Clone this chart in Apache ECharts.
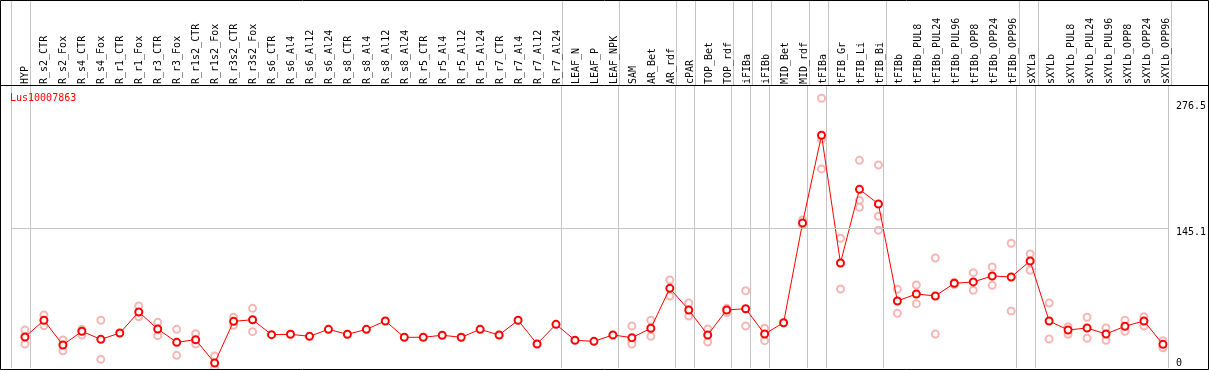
<!DOCTYPE html>
<html>
<head>
<meta charset="utf-8">
<script src="https://cdn.jsdelivr.net/npm/echarts@6/dist/echarts.min.js"></script>
<style>
html,body{margin:0;padding:0;background:#fff;}
#chart{width:1209px;height:370px;}
</style>
</head>
<body>
<div id="chart"></div>
<script>
const geneId = 'Lus10007863';

const categories = ['HYP','R_s2_CTR','R_s2_Fox','R_s4_CTR','R_s4_Fox','R_r1_CTR','R_r1_Fox','R_r3_CTR','R_r3_Fox','R_r1s2_CTR','R_r1s2_Fox','R_r3s2_CTR','R_r3s2_Fox','R_s6_CTR','R_s6_Al4','R_s6_Al12','R_s6_Al24','R_s8_CTR','R_s8_Al4','R_s8_Al12','R_s8_Al24','R_r5_CTR','R_r5_Al4','R_r5_Al12','R_r5_Al24','R_r7_CTR','R_r7_Al4','R_r7_Al12','R_r7_Al24','LEAF_N','LEAF_P','LEAF_NPK','SAM','AR_Bet','AR_rdf','cPAR','TOP_Bet','TOP_rdf','iFIBa','iFIBb','MID_Bet','MID_rdf','tFIBa','tFIB_Gr','tFIB_Li','tFIB_Bi','tFIBb','tFIBb_PUL8','tFIBb_PUL24','tFIBb_PUL96','tFIBb_OPP8','tFIBb_OPP24','tFIBb_OPP96','sXYLa','sXYLb','sXYLb_PUL8','sXYLb_PUL24','sXYLb_PUL96','sXYLb_OPP8','sXYLb_OPP24','sXYLb_OPP96'];

const meanValues = [32.1,49.4,23.8,38,29.7,36.2,58,40.4,26.6,29.3,5.2,48.3,50,34.5,34.9,32.8,40,34.9,40,48.7,31.8,31.8,33.9,31.8,40,34.2,49.4,24.9,45.2,28.7,27.6,34.2,31.4,41.1,82.5,60.1,34.2,60.1,61.4,35.2,46.9,150.2,241,108.7,185,169.8,69.4,76.6,74.6,87.7,89.1,95.3,94.2,110.8,48.7,39.4,41.4,35.2,43.2,48.7,24.5];

const replicateValues = [
  [39.3,24.9],[54.9,43.8],[29,17.9],[40,34.2],[49.4,9],[],[64.2,53.1],[47.3,33.5],[40,13.1],[35.5,24.9],[12.4,0],[52.5,44.2],[61.8,37.6],
  [],[],[],[],[],[],[],[],[],[],[],[],[],[],[],[],
  [],[],[],
  [43.5,27.3,24.9],[49.4,32.8],[91.1,74.6],[67.3,53.8],[40.4,26.9],[61.8,57.3],[80,43.5],[41.1,28.3],[],[153.3,148],
  [279.3,237.1,206.1],[134.3,81.8],[215,173.6,166.4],[210.2,157.1,142.6],
  [81.5,56.6],[85.9,66.6],[113.9,35.2],[88.7,86.3],[98.7,80.4],[104.6,85.6],[129.1,59],
  [118,101.2],[67.3,30],[42.8,34.9],[52.5,30.8],[41.4,28.7],[49.4,38],[53.1,43.5],[28.3,21]
];

const yTickLabelsTop = [145.1, 276.5];
const yTickLabelsBottom = [0];
const gridLineValue = 145.1;
const separatorIndices = [0,1,29,32,35,36,38,39,40,42,43,46,53,54,61];

// points sit right of each column's centre in the original plot
const columnShift = 4.5 / 19;
const xMin = -0.5 - columnShift;
const xMax = categories.length - 0.5 - columnShift;
const categoryIndices = categories.map((c, i) => i);

const meanPoints = meanValues.map((v, i) => [i, v]);
const repPoints = [];
replicateValues.forEach((arr, i) => arr.forEach(v => repPoints.push([i, v])));

const FONT = 'DejaVu Sans Mono';
const sepSet = new Set(separatorIndices);
const sepFn = (idx) => sepSet.has(idx);

const chart = echarts.init(document.getElementById('chart'), null, {renderer: 'canvas'});
chart.setOption({
  animation: false,
  backgroundColor: '#fff',
  title: {
    text: geneId, left: 5, top: 88,
    textStyle: {color: '#ff0000', fontSize: 10, fontWeight: 'normal', fontFamily: FONT}
  },
  grid: [
    {left: 11, right: 38, top: 0, height: 85},
    {left: 11, right: 38, top: 85, bottom: 2}
  ],
  xAxis: [
    {
      type: 'value', gridIndex: 0, min: xMin, max: xMax,
      axisLine: {show: false}, axisTick: {show: false}, splitLine: {show: false},
      axisLabel: {inside: true, rotate: 90, margin: 1, verticalAlign: 'middle', padding: [3, 0, 0, 0],
        customValues: categoryIndices, formatter: v => categories[Math.round(v)],
        showMinLabel: true, showMaxLabel: true, hideOverlap: false,
        fontSize: 10, fontFamily: FONT, color: '#000'}
    },
    {
      type: 'category', gridIndex: 0, data: categories, boundaryGap: true,
      axisLine: {show: false}, axisTick: {show: false}, axisLabel: {show: false},
      splitLine: {show: true, interval: sepFn, lineStyle: {color: '#c4c4c4', width: 1}}
    },
    {
      type: 'value', gridIndex: 1, min: xMin, max: xMax, show: false
    },
    {
      type: 'category', gridIndex: 1, data: categories, boundaryGap: true,
      axisLine: {show: false}, axisTick: {show: false}, axisLabel: {show: false},
      splitLine: {show: true, interval: sepFn, lineStyle: {color: '#c4c4c4', width: 1}}
    }
  ],
  yAxis: [
    {type: 'value', gridIndex: 0, show: false},
    {
      type: 'value', gridIndex: 1, position: 'right', min: 0, max: 293,
      axisLine: {show: false}, axisTick: {show: false}, splitLine: {show: false},
      axisLabel: {customValues: yTickLabelsTop, verticalAlign: 'top', align: 'left', margin: 8,
        fontSize: 10, fontFamily: FONT, color: '#000', formatter: v => String(v)}
    },
    {
      type: 'value', gridIndex: 1, position: 'right', min: 0, max: 293,
      axisLine: {show: false}, axisTick: {show: false}, splitLine: {show: false},
      axisLabel: {customValues: yTickLabelsBottom, verticalAlign: 'bottom', align: 'left', margin: 8,
        fontSize: 10, fontFamily: FONT, color: '#000', formatter: v => String(v)}
    }
  ],
  graphic: [
    {type: 'rect', shape: {x: 0.5, y: 0.5, width: 1208, height: 369}, style: {fill: 'none', stroke: '#000', lineWidth: 1}, z: 100},
    {type: 'line', shape: {x1: 0, y1: 85.5, x2: 1209, y2: 85.5}, style: {stroke: '#000', lineWidth: 1}, z: 100}
  ],
  series: [
    {type: 'line', xAxisIndex: 0, yAxisIndex: 0, data: [], silent: true},
    {type: 'line', xAxisIndex: 1, yAxisIndex: 0, data: [], silent: true},
    {type: 'line', xAxisIndex: 3, yAxisIndex: 1, data: [], silent: true},
    {
      type: 'scatter', xAxisIndex: 2, yAxisIndex: 1, data: repPoints, clip: false,
      symbol: 'emptyCircle', symbolSize: 7,
      itemStyle: {color: '#f4a4a4', borderColor: '#f4a4a4', borderWidth: 1},
      z: 2, silent: true
    },
    {
      type: 'line', xAxisIndex: 2, yAxisIndex: 1, data: meanPoints, clip: false,
      symbol: 'emptyCircle', symbolSize: 7, showAllSymbol: true,
      lineStyle: {color: '#ff0000', width: 1},
      itemStyle: {color: '#ff0000', borderColor: '#ff0000', borderWidth: 1.3},
      markLine: {silent: true, symbol: 'none', label: {show: false},
        lineStyle: {color: '#c4c4c4', type: 'solid', width: 1},
        data: [{yAxis: gridLineValue}]},
      z: 3, silent: true
    }
  ]
});
</script>
</body>
</html>
